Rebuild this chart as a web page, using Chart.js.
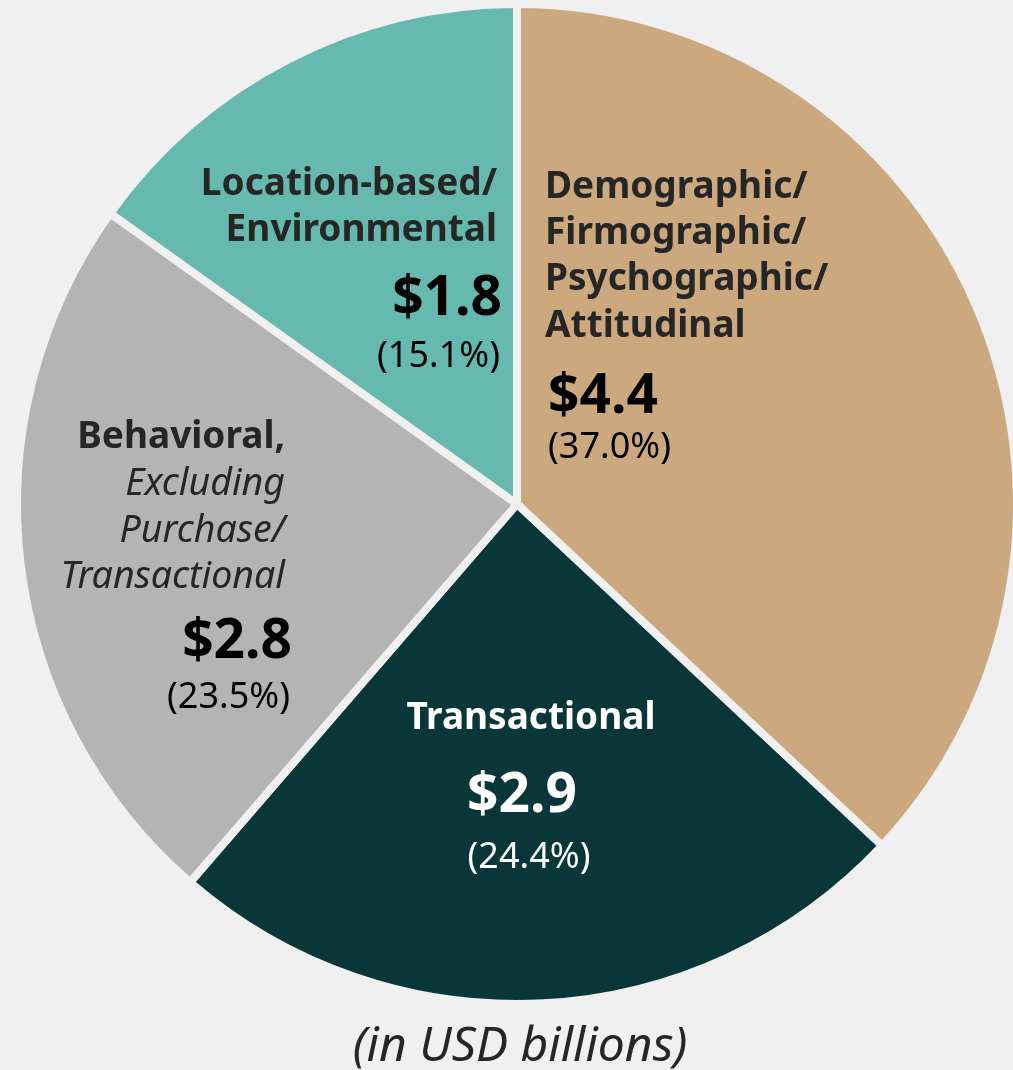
<!DOCTYPE html>
<html>
<head>
<meta charset="utf-8">
<script src="https://cdn.jsdelivr.net/npm/chart.js@4"></script>
<style>
  html, body { margin: 0; padding: 0; background: #f0f0f0; }
  #wrap { width: 1013px; height: 1070px; position: relative; }
</style>
</head>
<body>
<div id="wrap"><canvas id="pieChart"></canvas></div>
<script>
// Données du graphique (en milliards USD)
const categories = [
    ['Demographic/', 'Firmographic/', 'Psychographic/', 'Attitudinal'],
    ['Transactional'],
    ['Behavioral,', 'Excluding', 'Purchase/', 'Transactional'],
    ['Location-based/', 'Environmental']
];
const values = [4.4, 2.9, 2.8, 1.8];
const colors = ['#cca87e', '#093638', '#b4b4b4', '#66b9ae'];
const unitNote = '(in USD billions)';

const FONT = "'Noto Sans', 'Open Sans', sans-serif";
const total = values.reduce((a, b) => a + b, 0);

// Placement des étiquettes, en décalage par rapport au centre du camembert
const labelLayout = [
    { align: 'left',   x: 28,   lines: [-306, -260, -214, -167], italicFrom: 99, value: [31, -91], pct: [31, -46], light: false },
    { align: 'center', x: 14,   lines: [225],                    italicFrom: 99, value: [5, 308],  pct: [12, 364], light: true },
    { align: 'right',  x: -232, lines: [-56, -9, 38, 84],        italicFrom: 1,  value: [-225, 154], pct: [-227, 204], light: false },
    { align: 'right',  x: -20,  lines: [-309, -263],             italicFrom: 99, value: [-15, -189], pct: [-17, -137], light: false }
];

const labelPlugin = {
    id: 'sliceLabels',
    afterDatasetsDraw(chart) {
        const ctx = chart.ctx;
        const arcs = chart.getDatasetMeta(0).data;
        const cx = arcs[0].x, cy = arcs[0].y;
        ctx.save();
        ctx.textBaseline = 'alphabetic';
        labelLayout.forEach((lay, i) => {
            ctx.textAlign = lay.align;
            const dark = lay.light ? '#ffffff' : '#262626';
            categories[i].forEach((line, j) => {
                ctx.fillStyle = dark;
                ctx.font = j >= lay.italicFrom ? `italic 400 37.5px ${FONT}` : `bold 37px ${FONT}`;
                ctx.fillText(line, cx + lay.x, cy + lay.lines[j]);
            });
            ctx.fillStyle = lay.light ? '#ffffff' : '#000000';
            ctx.font = `bold 55px ${FONT}`;
            ctx.fillText('$' + values[i].toFixed(1), cx + lay.value[0], cy + lay.value[1]);
            ctx.font = `400 36px ${FONT}`;
            ctx.fillText('(' + (values[i] / total * 100).toFixed(1) + '%)', cx + lay.pct[0], cy + lay.pct[1]);
        });
        // Note d'unité sous le graphique
        ctx.textAlign = 'center';
        ctx.fillStyle = '#262626';
        ctx.font = `italic 400 48px ${FONT}`;
        ctx.fillText(unitNote, cx + 3, 1061);
        ctx.restore();
    }
};

const ctx = document.getElementById('pieChart').getContext('2d');
const chart = new Chart(ctx, {
    type: 'pie',
    data: {
        labels: categories.map(c => c.join(' ')),
        datasets: [{
            data: values,
            backgroundColor: colors,
            borderColor: '#f0f0f0',
            borderWidth: 8,
            radius: 500,
            clip: false
        }]
    },
    options: {
        responsive: true,
        maintainAspectRatio: false,
        animation: false,
        layout: { padding: { left: 21, right: 0, top: 8, bottom: 70 } },
        plugins: {
            legend: { display: false },
            tooltip: { enabled: false }
        }
    },
    plugins: [labelPlugin]
});
</script>
</body>
</html>
